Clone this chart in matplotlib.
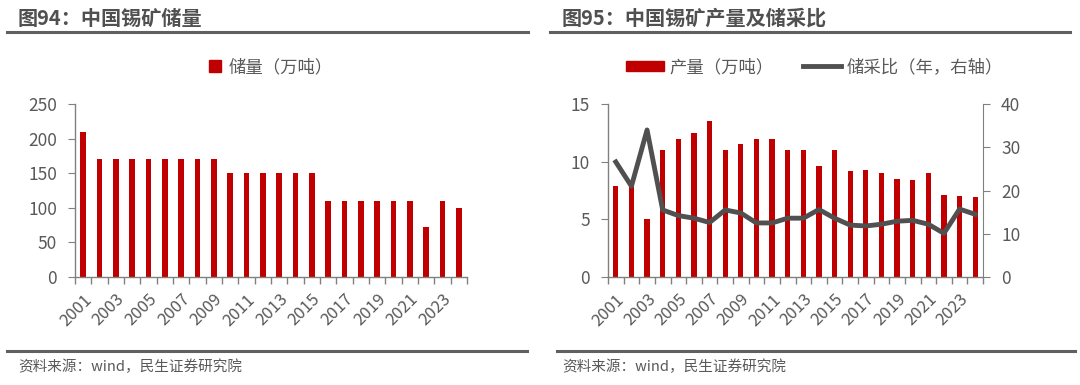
import numpy as np
import matplotlib.pyplot as plt
from matplotlib.lines import Line2D
from matplotlib.patches import Patch

plt.rcParams['font.family'] = ['Noto Sans CJK SC', 'DejaVu Sans']

years = list(range(2001, 2025))
reserve = [210, 170, 170, 170, 170, 170, 170, 170, 170, 150, 150, 150, 150, 150, 150,
           110, 110, 110, 110, 110, 110, 72, 110, 100]
output = [7.9, 8.1, 5.0, 11, 12, 12.5, 13.5, 11, 11.5, 12, 12, 11, 11, 9.6, 11,
          9.2, 9.3, 9.0, 8.5, 8.4, 9.0, 7.1, 7.0, 6.9]
ratio = [26.6, 21.0, 34.0, 15.5, 14.2, 13.6, 12.6, 15.5, 14.8, 12.5, 12.5, 13.6, 13.6,
         15.6, 13.6, 12.0, 11.8, 12.2, 12.9, 13.1, 12.2, 10.1, 15.7, 14.5]

RED = '#C00000'
GREY = '#505050'
TXT = '#595959'
W, H = 1080, 385

fig = plt.figure(figsize=(W / 100, H / 100), dpi=100)


def box(x0, y0, x1, y1):
    return [x0 / W, 1 - y1 / H, (x1 - x0) / W, (y1 - y0) / H]


def hline(x0, x1, y, lw=2.2, c='#606060'):
    fig.add_artist(Line2D([x0 / W, x1 / W], [1 - y / H, 1 - y / H], color=c, lw=lw))


def style(ax, n):
    x = np.arange(n)
    ax.set_xlim(-0.5, n - 0.5)
    ax.set_xticks(x[::2])
    ax.set_xticklabels([str(y) for y in years[::2]], rotation=45, ha='right',
                       rotation_mode='anchor', fontsize=12, color=TXT)
    ax.set_xticks(np.arange(n + 1) - 0.5, minor=True)
    ax.tick_params(axis='x', which='major', length=0, pad=10)
    ax.tick_params(axis='x', which='minor', length=5, color='#808080', width=1)
    ax.tick_params(axis='y', length=5, color='#808080', labelsize=12.5, labelcolor=TXT, pad=8)
    for s in ['top', 'right']:
        ax.spines[s].set_visible(False)
    for s in ['left', 'bottom']:
        ax.spines[s].set_color('#808080')
        ax.spines[s].set_linewidth(1)


n = len(years)
x = np.arange(n)

# left chart
ax1 = fig.add_axes(box(75, 104, 467, 277))
ax1.bar(x, reserve, width=0.34, color=RED)
ax1.set_ylim(0, 250)
ax1.set_yticks(range(0, 251, 50))
style(ax1, n)
ax1.legend(handles=[Patch(color=RED, label='储量（万吨）')], loc='center',
           bbox_to_anchor=(0.50, 1.214), frameon=False, fontsize=12.5, handlelength=0.7,
           handleheight=0.7, handletextpad=0.4, labelcolor=TXT)

# right chart
ax2 = fig.add_axes(box(608, 104, 983, 277))
ax2.bar(x, output, width=0.34, color=RED, zorder=1)
ax2.set_ylim(0, 15)
ax2.set_yticks(range(0, 16, 5))
style(ax2, n)
ax3 = ax2.twinx()
ax3.plot(x, ratio, color=GREY, lw=3.5, solid_joinstyle='round')
ax3.set_ylim(0, 40)
ax3.set_yticks(range(0, 41, 10))
for s in ['top', 'left', 'bottom']:
    ax3.spines[s].set_visible(False)
ax3.spines['right'].set_color('#808080')
ax3.tick_params(axis='y', length=5, color='#808080', labelsize=12.5, labelcolor=TXT, pad=8)
ax2.legend(handles=[Patch(color=RED, label='产量（万吨）'),
                    Line2D([], [], color=GREY, lw=3.5, label='储采比（年，右轴）')],
           loc='center', bbox_to_anchor=(0.55, 1.214), ncol=2, frameon=False,
           fontsize=12.5, handlelength=2.2, handleheight=0.5, handletextpad=0.3,
           columnspacing=1.7, labelcolor=TXT)

# titles, rules, sources
fig.text(18 / W, 1 - 18 / H, '图94：中国锡矿储量', fontsize=14.5, fontweight='bold',
         color='#505050', va='center')
fig.text(562 / W, 1 - 18 / H, '图95：中国锡矿产量及储采比', fontsize=14.5, fontweight='bold',
         color='#505050', va='center')
hline(7, 528, 31.5)
hline(550, 1070, 31.5)
hline(7, 527, 351)
hline(557, 1075, 351)
fig.text(18 / W, 1 - 367 / H, '资料来源：wind，民生证券研究院', fontsize=10.5, color=TXT, va='center')
fig.text(562 / W, 1 - 367 / H, '资料来源：wind，民生证券研究院', fontsize=10.5, color=TXT, va='center')

fig.savefig('out.png', dpi=100)
